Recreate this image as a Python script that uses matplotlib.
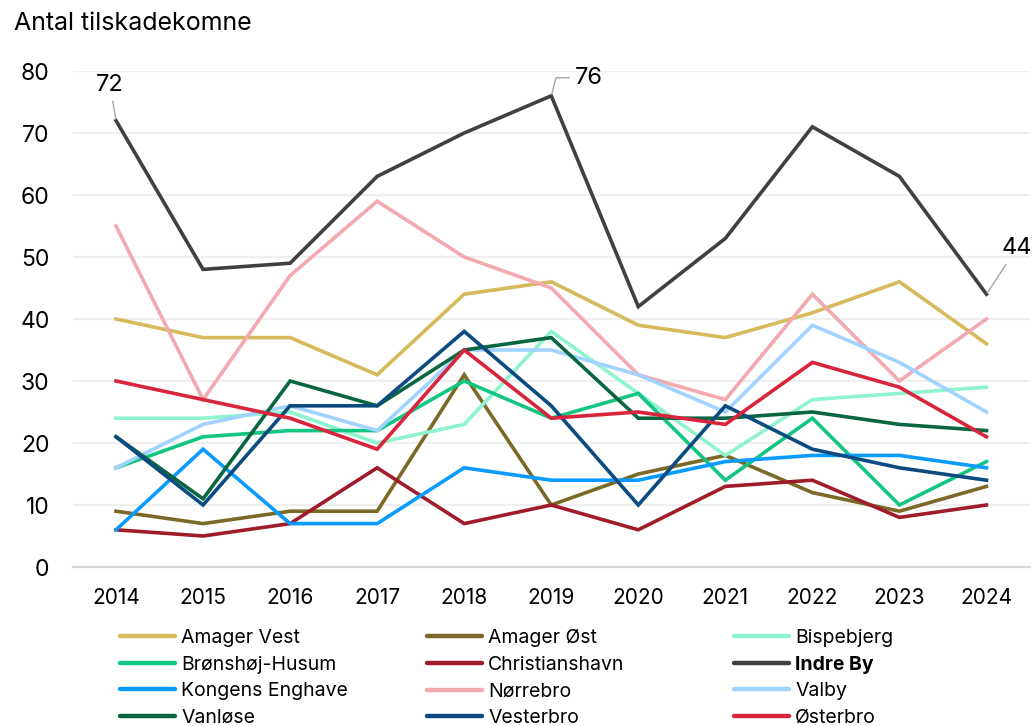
import matplotlib
matplotlib.use("Agg")
import matplotlib.pyplot as plt
from matplotlib.lines import Line2D

plt.rcParams['font.family'] = ['Inter', 'DejaVu Sans']

years = [2014, 2015, 2016, 2017, 2018, 2019, 2020, 2021, 2022, 2023, 2024]

amager_vest = [40, 37, 37, 31, 44, 46, 39, 37, 41, 46, 36]
amager_oest = [9, 7, 9, 9, 31, 10, 15, 18, 12, 9, 13]
bispebjerg = [24, 24, 25, 20, 23, 38, 28, 18, 27, 28, 29]
broenshoej_husum = [16, 21, 22, 22, 30, 24, 28, 14, 24, 10, 17]
christianshavn = [6, 5, 7, 16, 7, 10, 6, 13, 14, 8, 10]
indre_by = [72, 48, 49, 63, 70, 76, 42, 53, 71, 63, 44]
kongens_enghave = [6, 19, 7, 7, 16, 14, 14, 17, 18, 18, 16]
noerrebro = [55, 27, 47, 59, 50, 45, 31, 27, 44, 30, 40]
valby = [16, 23, 26, 22, 35, 35, 31, 25, 39, 33, 25]
vanloese = [21, 11, 30, 26, 35, 37, 24, 24, 25, 23, 22]
vesterbro = [21, 10, 26, 26, 38, 26, 10, 26, 19, 16, 14]
oesterbro = [30, 27, 24, 19, 35, 24, 25, 23, 33, 29, 21]

series = [
    ("Amager Vest", amager_vest, "#D6BA5B"),
    ("Amager Øst", amager_oest, "#7A6927"),
    ("Bispebjerg", bispebjerg, "#8EF3CF"),
    ("Brønshøj-Husum", broenshoej_husum, "#12C682"),
    ("Christianshavn", christianshavn, "#A11C2B"),
    ("Indre By", indre_by, "#404040"),
    ("Kongens Enghave", kongens_enghave, "#0A9BFF"),
    ("Nørrebro", noerrebro, "#F2A9AF"),
    ("Valby", valby, "#A0D3FF"),
    ("Vanløse", vanloese, "#0A6640"),
    ("Vesterbro", vesterbro, "#0B4B80"),
    ("Østerbro", oesterbro, "#D8253B"),
]

W, H = 1033, 726
fig = plt.figure(figsize=(W / 100, H / 100), dpi=100)
ax = fig.add_axes([72.5 / W, 1 - 567 / H, (1030 - 72.5) / W, (567 - 71) / H])

for name, vals, col in series:
    ax.plot(years, vals, color=col, lw=2.6, solid_joinstyle='miter', clip_on=False)

ax.set_xlim(2013.5, 2024.5)
ax.set_ylim(0, 80)
ax.set_yticks(range(0, 81, 10))
ax.set_xticks(years)
ax.tick_params(axis='both', length=0, colors='#000000')
ax.tick_params(axis='y', pad=16.5, labelsize=16.5)
ax.tick_params(axis='x', pad=15, labelsize=15)
ax.yaxis.grid(True, color='#EFEFEF', lw=1.6)
ax.set_axisbelow(True)
for s in ['top', 'right', 'left']:
    ax.spines[s].set_visible(False)
ax.spines['bottom'].set_color('#D9D9D9')
ax.spines['bottom'].set_linewidth(1.6)

fig.text(14 / W, 1 - 23 / H, "Antal tilskadekomne", fontsize=18, ha='left', va='center')

# value labels for Indre By
lead = dict(arrowstyle='-', color='#A6A6A6', lw=1, shrinkA=2, shrinkB=1)
ax.annotate("72", xy=(2014, 72), xytext=(-4.3, 25.9), textcoords='offset points',
            ha='center', va='center', fontsize=17, arrowprops=lead, annotation_clip=False)
ax.annotate("76", xy=(2019, 76), xytext=(17, 13), textcoords='offset points',
            ha='left', va='center', fontsize=17, annotation_clip=False,
            arrowprops=dict(lead, connectionstyle='angle,angleA=0,angleB=75,rad=0'))
ax.annotate("44", xy=(2024, 44), xytext=(21.6, 33), textcoords='offset points',
            ha='center', va='center', fontsize=17, arrowprops=lead, annotation_clip=False)

# legend laid out as a 3-column grid, one legend per column
col_x = [120 / W, 427 / W, 734 / W]
for c in range(3):
    handles, labels = [], []
    for r in range(4):
        name, vals, col = series[r * 3 + c]
        handles.append(Line2D([], [], color=col, lw=3.2, solid_capstyle='round'))
        labels.append(name)
    leg = fig.legend(handles, labels, loc='upper left', bbox_to_anchor=(col_x[c], 1 - 629 / H),
                     frameon=False, fontsize=14, handlelength=2.85, handletextpad=0.3,
                     labelspacing=0.44, borderpad=0, borderaxespad=0)
    for t in leg.get_texts():
        if t.get_text() == "Indre By":
            t.set_fontweight('bold')

fig.savefig("out.png", dpi=100)
